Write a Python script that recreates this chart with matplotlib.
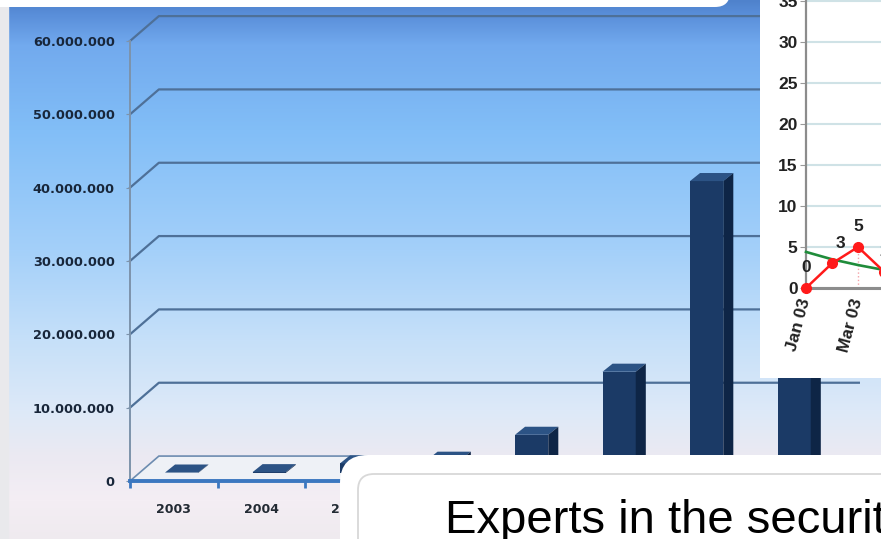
import matplotlib
matplotlib.use("Agg")
import matplotlib.pyplot as plt
import numpy as np
from matplotlib.patches import Polygon, FancyBboxPatch, Rectangle
from matplotlib.transforms import IdentityTransform
from matplotlib.colors import to_rgb

# datos del grafico principal
anios = ["2003", "2004", "2005", "2006", "2007", "2008", "2009", "2010"]
valores = [0.05e6, 0.1e6, 1.3e6, 1.8e6, 5.2e6, 13.8e6, 39.8e6, 45e6]  # 2010 queda tapado
ticks_y = [0, 10e6, 20e6, 30e6, 40e6, 50e6, 60e6]

# grafico pequeño de la derecha
meses = ["Jan 03", "Feb 03", "Mar 03", "Apr 03"]
serie_roja = [0, 3, 5, 2]
tendencia = [4.4, 3.5, 2.8, 2.2]
ticks_inset = [0, 5, 10, 15, 20, 25, 30, 35]

W, H = 881, 539


def rect_px(x0, y_top, x1, y_bottom):
    """caja en pixeles (y medida desde arriba) -> fraccion de figura"""
    return [x0 / W, (H - y_bottom) / H, (x1 - x0) / W, (y_bottom - y_top) / H]


fig = plt.figure(figsize=(W / 100, H / 100), dpi=100)

# --- fondo degradado ---
paradas = [(0, "#4f82cc"), (15, "#5a8fda"), (45, "#72aaee"), (130, "#82bef7"),
           (250, "#a4d0fa"), (340, "#c6e0f9"), (410, "#dde9f8"), (455, "#ebe9f2"),
           (500, "#f4eef4"), (539, "#efeaef")]
ys = np.arange(H)
grad = np.zeros((H, 1, 3))
for c in range(3):
    grad[:, 0, c] = np.interp(ys, [p[0] for p in paradas], [to_rgb(p[1])[c] for p in paradas])
bg = fig.add_axes([0, 0, 1, 1], zorder=0)
bg.imshow(grad, aspect="auto", extent=[0, W, H, 0])
bg.set_xlim(0, W)
bg.set_ylim(H, 0)
bg.axis("off")
bg.add_patch(Rectangle((0, 0), 8, H, color="#e9e9ec", zorder=2))

# --- grafico principal con efecto 3D ---
px_cat = 87.5          # pixeles por categoria
px_val = 73.33 / 10e6  # pixeles por unidad
XL, XR = -0.5, 7.83
y_top_px = 6
y_max = (481 - y_top_px) / px_val
ax = fig.add_axes(rect_px(130, y_top_px, 130 + (XR - XL) * px_cat, 481), zorder=1)
ax.set_facecolor("none")
ax.set_xlim(XL, XR)
ax.set_ylim(0, y_max)

DX, DY = 0.33, 3.4e6
# suelo
ax.add_patch(Polygon([(-0.5, 0), (7.5, 0), (7.5 + DX, DY), (-0.5 + DX, DY)],
                     closed=True, fc="#eef1f6", ec="#6d8cb0", lw=1.2, zorder=1))
# lineas de la pared del fondo
for v in ticks_y[1:]:
    ax.plot([-0.5, -0.5 + DX, XR], [v, v + DY, v + DY], color="#4e7098", lw=1.6,
            zorder=0.5, clip_on=False)

# barras
x = np.arange(len(anios))
bw, off, b0 = 0.38, 0.09, 1.1e6
ddx, ddy = 0.115, 1.1e6
cx = x + off
ax.bar(cx, valores, width=bw, bottom=b0, color="#1b3a66", zorder=3)
for xi, v in zip(cx, valores):
    xl, xr = xi - bw / 2, xi + bw / 2
    ax.add_patch(Polygon([(xl, b0 + v), (xr, b0 + v), (xr + ddx, b0 + v + ddy), (xl + ddx, b0 + v + ddy)],
                         closed=True, fc="#2c5385", ec="none", zorder=3))
    ax.add_patch(Polygon([(xr, b0), (xr + ddx, b0 + ddy), (xr + ddx, b0 + v + ddy), (xr, b0 + v)],
                         closed=True, fc="#0e2546", ec="none", zorder=3))

for s in ["top", "right"]:
    ax.spines[s].set_visible(False)
ax.spines["left"].set_bounds(0, 60e6)
ax.spines["left"].set_color("#7d93ab")
ax.spines["left"].set_linewidth(1.4)
ax.spines["bottom"].set_bounds(-0.5, 7.5)
ax.spines["bottom"].set_color("#3b77c0")
ax.spines["bottom"].set_linewidth(2.8)
ax.spines["bottom"].set_zorder(4)

ax.set_yticks(ticks_y)
ax.set_yticklabels([f"{int(v):,}".replace(",", ".") for v in ticks_y],
                   fontweight="bold", fontsize=9.3, color="#18263a")
ax.tick_params(axis="y", length=3, color="#7d93ab", pad=8)
ax.set_xticks(x)
ax.set_xticklabels(anios, fontweight="bold", fontsize=9, color="#222a33")
ax.set_xticks(np.arange(-0.5, 7.0, 1.0), minor=True)
ax.tick_params(axis="x", which="major", length=0, pad=16)
ax.tick_params(axis="x", which="minor", length=5, width=2, color="#3b77c0")

# --- tarjeta blanca superior ---
ident = IdentityTransform()
fig.add_artist(FancyBboxPatch((-40, H - 7), 770, 60, boxstyle="round,pad=0,rounding_size=15",
                              fc="white", ec="none", transform=ident, zorder=6))

# --- grafico pequeño de la derecha ---
fig.add_artist(Rectangle((760, H - 378), 200, 400, fc="white", ec="none",
                         transform=ident, zorder=2))
ax2 = fig.add_axes(rect_px(806, 0, 806 + 4 * 26, 288), zorder=3)
ax2.set_facecolor("none")
ax2.set_xlim(0, 4)
ax2.set_ylim(0, 288 / 41 * 5)
xi2 = np.arange(len(meses))
ax2.set_yticks(ticks_inset)
ax2.set_yticklabels([str(t) for t in ticks_inset], family="Liberation Sans",
                    fontweight="bold", fontsize=12.5, color="#222222")
ax2.yaxis.grid(True, color="#cfe2e6", lw=1.5)
ax2.set_axisbelow(True)
ax2.tick_params(axis="y", length=4, color="#999999", pad=2)
ax2.set_xticks(xi2[::2])
ax2.set_xticklabels(meses[::2], family="Liberation Sans", fontweight="bold",
                    fontsize=12.5, color="#222222", rotation=75, ha="right", va="center",
                    rotation_mode="anchor")
ax2.tick_params(axis="x", length=0, pad=8)
for s in ["top", "right"]:
    ax2.spines[s].set_visible(False)
ax2.spines["left"].set_color("#8c8c8c")
ax2.spines["left"].set_linewidth(1.6)
ax2.spines["bottom"].set_color("#8c8c8c")
ax2.spines["bottom"].set_linewidth(2.2)

ax2.vlines(2, 0, serie_roja[2], colors="#f4a0a6", linestyles=":", lw=1)
ax2.plot(xi2, tendencia, color="#1f8c3a", lw=1.9, zorder=3, clip_on=False)
ax2.plot(xi2, serie_roja, color="#ff1a1a", lw=1.8, marker="o", ms=7, zorder=4, clip_on=False)
for xv, yv in zip(xi2, serie_roja):
    dx = 6 if yv == 3 and xv == 1 else 0
    ax2.annotate(str(yv), (xv, yv), xytext=(dx, 14.5), textcoords="offset points",
                 ha="center", va="center", family="Liberation Sans", fontweight="bold",
                 fontsize=12.5, color="#222222", annotation_clip=False)

# --- tarjeta blanca inferior con el texto ---
fig.add_artist(FancyBboxPatch((340, -60), 700, H - 455 + 60, boxstyle="round,pad=0,rounding_size=28",
                              fc="white", ec="none", transform=ident, zorder=6))
fig.add_artist(FancyBboxPatch((358, -60), 700, H - 474 + 60, boxstyle="round,pad=0,rounding_size=16",
                              fc="none", ec="#d8d8d8", lw=1.3, transform=ident, zorder=7))
fig.text(445 / W, 6 / H, "Experts in the security", family="Liberation Sans", fontsize=34,
         color="black", va="baseline", ha="left", zorder=8)

fig.savefig("out.png", dpi=100)
